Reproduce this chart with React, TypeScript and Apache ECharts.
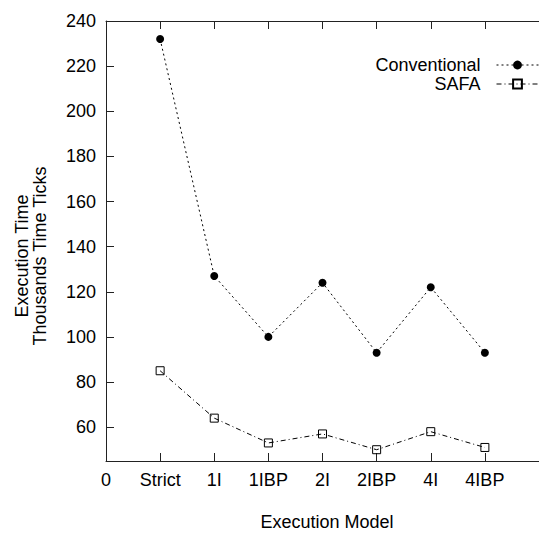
import React, { useEffect, useRef } from "react";
import * as echarts from "echarts";

const categories = ["0", "Strict", "1I", "1IBP", "2I", "2IBP", "4I", "4IBP"];
const conventional = [232, 127, 100, 124, 93, 122, 93];
const safa = [85, 64, 53, 57, 50, 58, 51];
const yTicks = [60, 80, 100, 120, 140, 160, 180, 200, 220, 240];
const xTicks = [0, 1, 2, 3, 4, 5, 6, 7];

const FONT = "Liberation Sans, Arial, Helvetica, sans-serif";
const FS = 18;

const convLine = { color: "#000", width: 1, type: [2, 3] };
const safaLine = { color: "#000", width: 1, type: [5, 3, 1, 3] };

export default function App() {
  const ref = useRef<HTMLDivElement>(null);
  useEffect(() => {
    if (!ref.current) return;
    const chart = echarts.init(ref.current, null, { renderer: "svg" });
    const toPairs = (vals: number[]) => vals.map((v, i) => [i + 1, v]);
    const axisColor = "#222";
    chart.setOption({
      animation: false,
      backgroundColor: "#fff",
      textStyle: { fontFamily: FONT },
      grid: { left: 106, top: 21, bottom: 75, right: -9, containLabel: false },
      legend: {
        orient: "vertical",
        align: "right",
        right: 0,
        top: 56,
        padding: 0,
        itemWidth: 42,
        itemHeight: 11,
        itemGap: 1,
        textStyle: { fontFamily: FONT, fontSize: FS, lineHeight: 17, color: "#000", padding: [0, 11, 0, 0] },
        data: [
          { name: "Conventional", lineStyle: convLine },
          { name: "SAFA", lineStyle: safaLine },
        ],
      },
      xAxis: [
        {
          type: "value",
          min: 0,
          max: 8,
          position: "bottom",
          splitLine: { show: false },
          axisLine: { show: true, lineStyle: { color: axisColor, width: 1 } },
          axisTick: { show: true, inside: true, length: 8, customValues: xTicks, lineStyle: { color: axisColor } },
          axisLabel: {
            show: true,
            customValues: xTicks,
            margin: 10,
            fontSize: FS,
            color: "#000",
            fontFamily: FONT,
            formatter: (v: number) => categories[Math.round(v)] ?? "",
          },
        },
        {
          type: "value",
          min: 0,
          max: 8,
          position: "top",
          splitLine: { show: false },
          axisLine: { show: true, lineStyle: { color: axisColor, width: 1 } },
          axisTick: { show: true, inside: true, length: 8, customValues: xTicks, lineStyle: { color: axisColor } },
          axisLabel: { show: false },
        },
      ],
      yAxis: {
        type: "value",
        min: 45,
        max: 240,
        splitLine: { show: false },
        axisLine: { show: true, lineStyle: { color: axisColor, width: 1 } },
        axisTick: { show: true, inside: true, length: 8, customValues: yTicks, lineStyle: { color: axisColor } },
        axisLabel: { show: true, customValues: yTicks, margin: 10, fontSize: FS, color: "#000", fontFamily: FONT },
      },
      graphic: [
        {
          type: "text",
          x: 31,
          y: 256,
          rotation: Math.PI / 2,
          style: {
            text: "Execution Time\nThousands Time Ticks",
            fontSize: FS,
            fontFamily: FONT,
            fill: "#000",
            align: "center",
            verticalAlign: "middle",
            lineHeight: 18,
          },
        },
        {
          type: "text",
          x: 327,
          y: 522,
          style: {
            text: "Execution Model",
            fontSize: FS,
            fontFamily: FONT,
            fill: "#000",
            align: "center",
            verticalAlign: "middle",
          },
        },
      ],
      series: [
        {
          name: "Conventional",
          type: "line",
          data: toPairs(conventional),
          symbol: "circle",
          symbolSize: 8,
          itemStyle: { color: "#000" },
          lineStyle: convLine,
        },
        {
          name: "SAFA",
          type: "line",
          data: toPairs(safa),
          symbol: "rect",
          symbolSize: 8,
          itemStyle: { color: "rgba(255,255,255,0)", borderColor: "#000", borderWidth: 1 },
          lineStyle: safaLine,
        },
      ],
    });
    return () => chart.dispose();
  }, []);
  return (
    <div
      ref={ref}
      style={{ position: "fixed", left: 0, top: 0, width: 539, height: 536 }}
    />
  );
}
